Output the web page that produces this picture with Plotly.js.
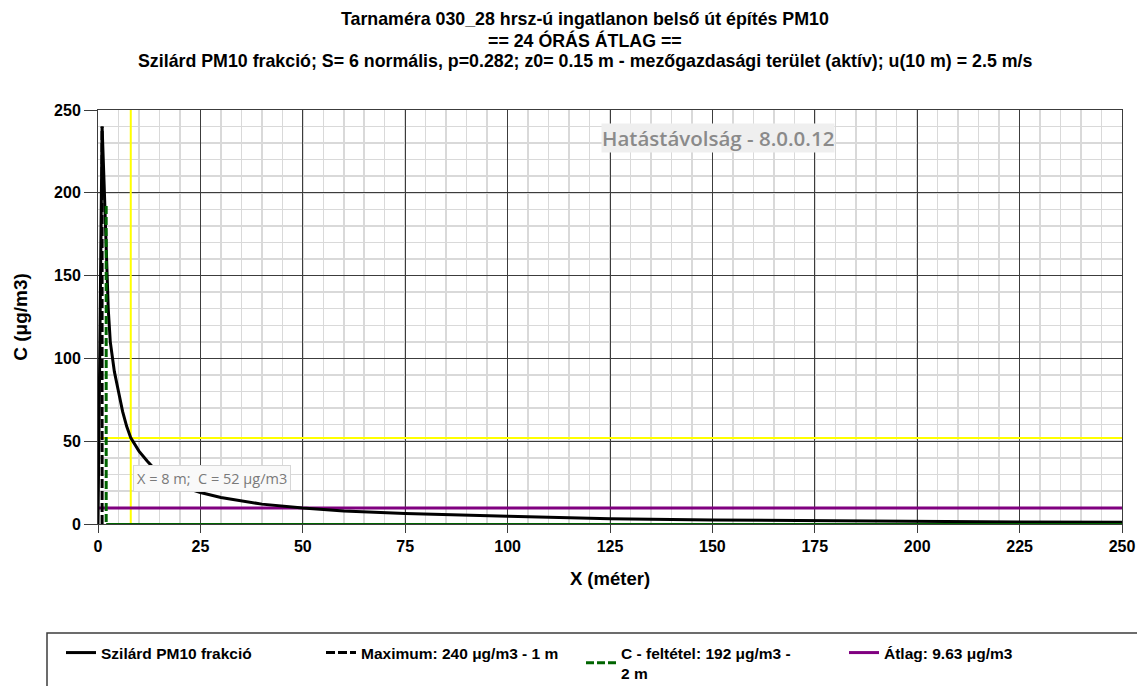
<!DOCTYPE html>
<html>
<head>
<meta charset="utf-8">
<script src="https://cdn.plot.ly/plotly-3.0.1.min.js"></script>
<style>
html,body{margin:0;padding:0;background:#ffffff;}
#chart{width:1137px;height:686px;}
</style>
</head>
<body>
<div id="chart"></div>
<script>
// ---- Text ----
const titleLines = [
  'Tarnaméra 030_28 hrsz-ú ingatlanon belső út építés PM10',
  '== 24 ÓRÁS ÁTLAG ==',
  'Szilárd PM10 frakció; S= 6 normális, p=0.282; z0= 0.15 m - mezőgazdasági terület (aktív); u(10 m) = 2.5 m/s'
];
const xAxisTitle = 'X (méter)';
const yAxisTitle = 'C (μg/m3)';
const versionLabel = 'Hatástávolság - 8.0.0.12';
const seriesNames = [
  'Szilárd PM10 frakció',
  'Maximum: 240 μg/m3 - 1 m',
  'C - feltétel: 192 μg/m3 -<br>2 m',
  'Átlag: 9.63 μg/m3'
];

// ---- Data ----
const distance = [0, 1, 1.5, 2, 2.5, 3, 3.5, 4, 5, 6, 7, 8, 10, 12, 15, 20, 25, 30, 40, 50, 60, 75, 100, 125, 150, 175, 200, 225, 250];
const concentration = [0, 240, 205, 168, 130, 110, 100, 92, 80, 68, 59, 52, 44, 38, 30, 23, 19, 16, 12, 9.6, 7.9, 6.3, 4.7, 3.2, 2.4, 1.9, 1.5, 1.2, 1.0];

const maximumX = [1, 1];
const maximumC = [0, 240];

const conditionX = [2, 2];
const conditionC = [192, 0];
const conditionBaseX = [2, 250];
const conditionBaseC = [0, 0];

const averageX = [0, 250];
const averageC = [9.63, 9.63];

const impactX = 8;      // m
const impactC = 52;     // μg/m3
const crossVertX = [impactX, impactX];
const crossVertC = [0, 250];
const crossHorzX = [0, 250];
const crossHorzC = [impactC, impactC];

const xTickVals = [0, 25, 50, 75, 100, 125, 150, 175, 200, 225, 250];
const yTickVals = [0, 50, 100, 150, 200, 250];

// ---- Styling ----
const FONT = 'Liberation Sans, Arial, sans-serif';
const W = 1137, H = 686;
const M = {l: 98, r: 15, t: 110, b: 162};
const plotH = H - M.t - M.b;
const plotW = W - M.l - M.r;
const py = p => (H - M.b - p) / plotH;   // pixel-y -> paper-y
const px = p => (p - M.l) / plotW;       // pixel-x -> paper-x

function legendBox(xPix) {
  return {
    xref: 'container', yref: 'container',
    x: xPix / W, y: 1 - 636 / H,
    xanchor: 'left', yanchor: 'top',
    orientation: 'h',
    bgcolor: 'rgba(0,0,0,0)', borderwidth: 0,
    font: {family: FONT, size: 15.5, color: '#000', weight: 'bold'},
    itemwidth: 30
  };
}

const traces = [
  {x: crossVertX, y: crossVertC, mode: 'lines', line: {color: '#ffff00', width: 2}, showlegend: false, hoverinfo: 'skip'},
  {x: crossHorzX, y: crossHorzC, mode: 'lines', line: {color: '#ffff00', width: 2}, showlegend: false, hoverinfo: 'skip'},
  {x: averageX, y: averageC, mode: 'lines', name: seriesNames[3], line: {color: '#800080', width: 3}, legend: 'legend4'},
  {x: distance, y: concentration, mode: 'lines', name: seriesNames[0], line: {color: '#000000', width: 3}, legend: 'legend'},
  {x: conditionBaseX, y: conditionBaseC, mode: 'lines', line: {color: '#006400', width: 2}, showlegend: false, hoverinfo: 'skip'},
  {x: maximumX, y: maximumC, mode: 'lines', name: seriesNames[1], line: {color: '#000000', width: 3, dash: '9px,3px'}, legend: 'legend2'},
  {x: conditionX, y: conditionC, mode: 'lines', name: seriesNames[2], line: {color: '#006400', width: 3, dash: '8px,3px'}, legend: 'legend3'}
];

const axisCommon = {
  showgrid: true, gridcolor: '#3c3c3c', gridwidth: 1,
  zeroline: false, showline: true, mirror: true, linecolor: '#3c3c3c', linewidth: 1,
  ticks: 'outside', tickcolor: '#3c3c3c', tickwidth: 1,
  tickfont: {family: FONT, size: 16, color: '#000', weight: 'bold'},
  layer: 'below traces',
  fixedrange: true
};

const layout = {
  width: W, height: H,
  margin: M,
  paper_bgcolor: '#ffffff', plot_bgcolor: '#ffffff',
  font: {family: FONT, color: '#000'},
  showlegend: true,
  xaxis: Object.assign({}, axisCommon, {
    range: [0, 250], tickmode: 'array', tickvals: xTickVals, ticklen: 8,
    minor: {dtick: 5, tick0: 0, showgrid: true, gridcolor: '#d9d9d9', gridwidth: 1.5, ticks: ''},
    title: {text: xAxisTitle, font: {family: FONT, size: 18.5, weight: 'bold', color: '#000'}, standoff: 17}
  }),
  yaxis: Object.assign({}, axisCommon, {
    range: [0, 250], tickmode: 'array', tickvals: yTickVals, ticklen: 13,
    minor: {dtick: 10, tick0: 0, showgrid: true, gridcolor: '#d9d9d9', gridwidth: 1.5, ticks: ''},
    title: {text: yAxisTitle, font: {family: FONT, size: 19, weight: 'bold', color: '#000'}, standoff: 21}
  }),
  legend: legendBox(61),
  legend2: legendBox(321),
  legend3: legendBox(581),
  legend4: legendBox(844),
  shapes: [
    {type: 'rect', xref: 'paper', yref: 'paper', x0: px(47), x1: px(1145), y0: py(633), y1: py(695),
     line: {color: '#3c3c3c', width: 1.5}, fillcolor: 'rgba(0,0,0,0)', layer: 'above'}
  ],
  annotations: [
    {xref: 'paper', yref: 'paper', x: px(585), y: py(19), xanchor: 'center', yanchor: 'middle', showarrow: false,
     text: titleLines[0], font: {family: FONT, size: 17.8, weight: 'bold', color: '#000'}},
    {xref: 'paper', yref: 'paper', x: px(585), y: py(40.5), xanchor: 'center', yanchor: 'middle', showarrow: false,
     text: titleLines[1], font: {family: FONT, size: 17.8, weight: 'bold', color: '#000'}},
    {xref: 'paper', yref: 'paper', x: px(585), y: py(61.5), xanchor: 'center', yanchor: 'middle', showarrow: false,
     text: titleLines[2], font: {family: FONT, size: 17.8, weight: 'bold', color: '#000'}},
    {xref: 'paper', yref: 'paper', x: px(717.5), y: py(137.5), xanchor: 'center', yanchor: 'middle', showarrow: false,
     text: versionLabel, bgcolor: '#efefef', borderpad: 0,
     font: {family: 'Open Sans, Noto Sans, sans-serif', size: 20.5, weight: 600, color: '#8a8a8a'}},
    {xref: 'x', yref: 'y', x: impactX, y: impactC, xanchor: 'left', yanchor: 'top', showarrow: false,
     xshift: 2, yshift: -27,
     text: 'X = ' + impactX + ' m;  C = ' + impactC + ' μg/m3',
     bgcolor: '#f9f9f9', bordercolor: '#d6d6d6', borderwidth: 1, borderpad: 3,
     font: {family: 'Open Sans, Noto Sans, sans-serif', size: 14.5, color: '#7a7a7a'}}
  ]
};

Plotly.newPlot('chart', traces, layout, {displayModeBar: false, responsive: false, staticPlot: true});
</script>
</body>
</html>
